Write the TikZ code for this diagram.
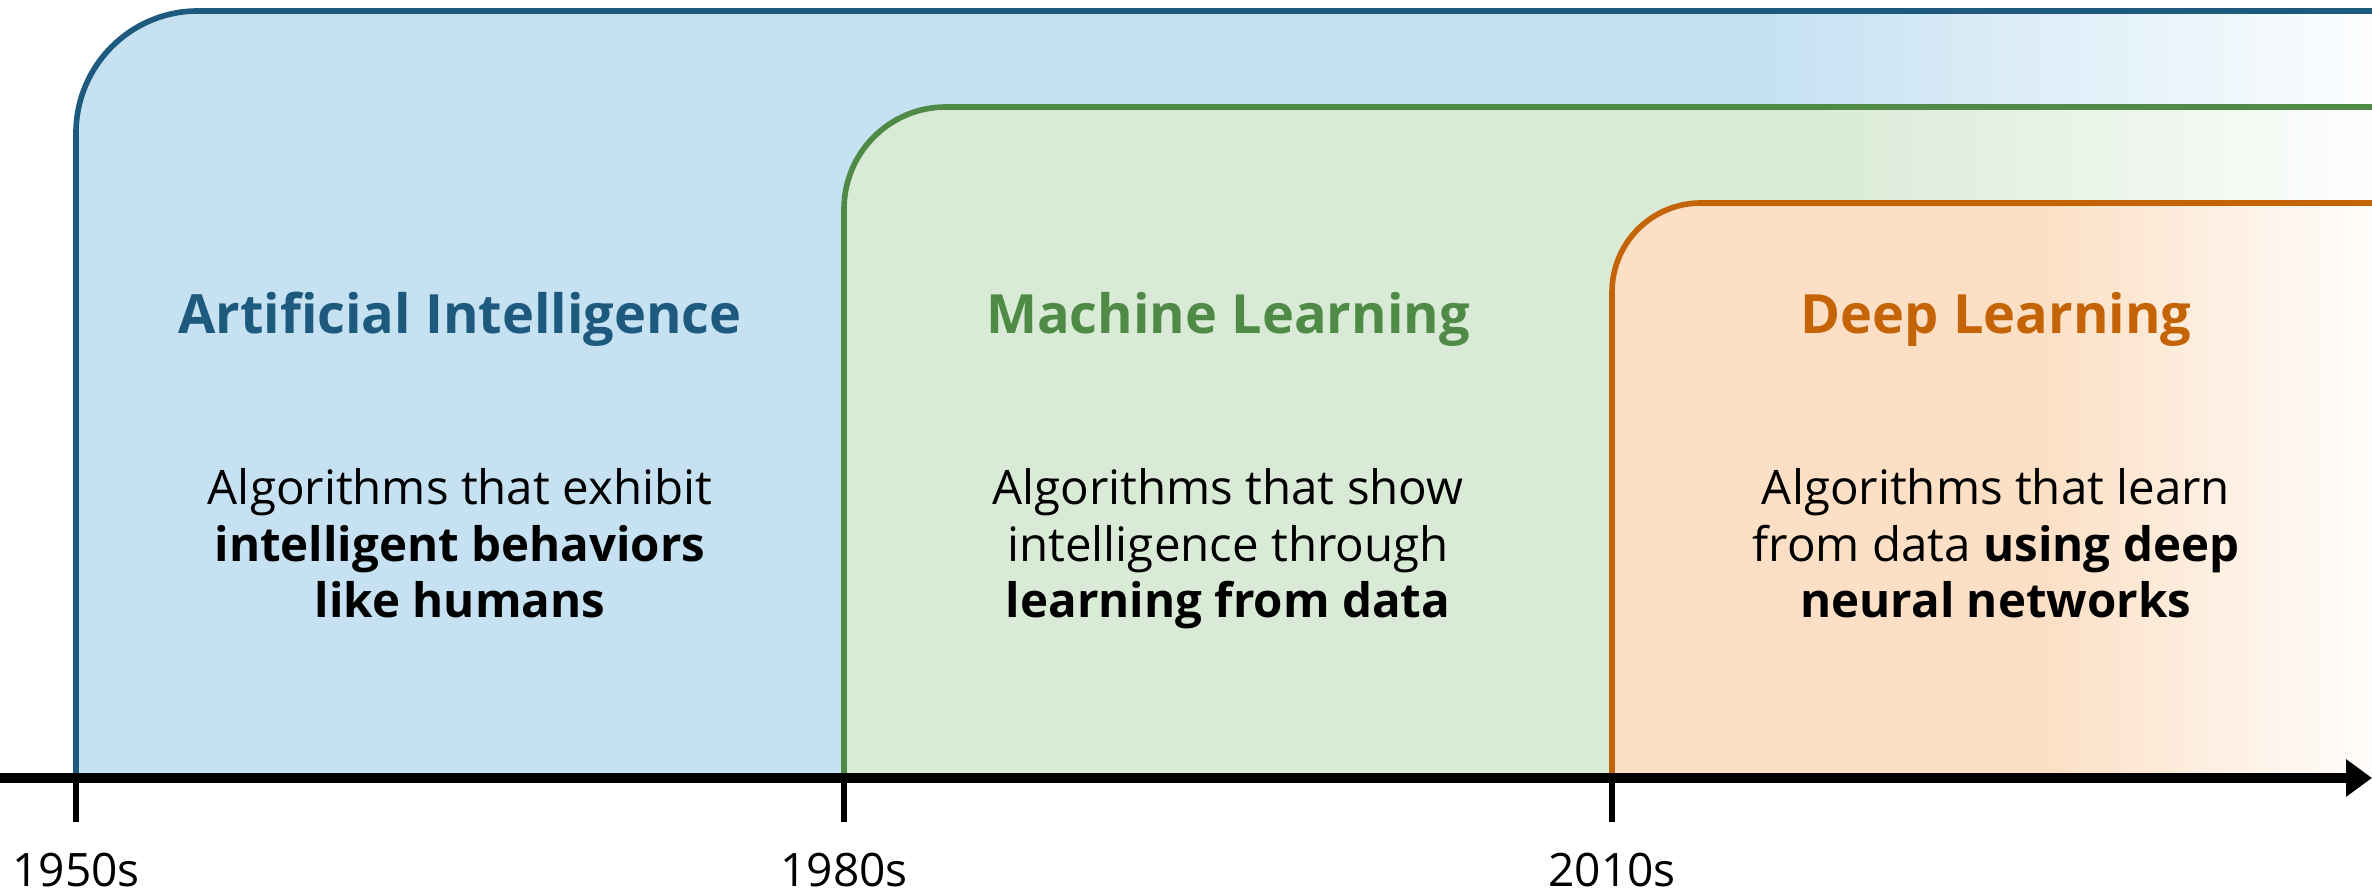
\documentclass[tikz,border=0pt]{standalone}
\usepackage{fontspec}
\setmainfont{Open Sans}
\usepackage{tikz}
\usetikzlibrary{arrows.meta}

\definecolor{ailine}{HTML}{1D5A7D}
\definecolor{aifill}{HTML}{C5E1F2}
\definecolor{mlline}{HTML}{4F8A46}
\definecolor{mlfill}{HTML}{D9EBD6}
\definecolor{dlline}{HTML}{C46407}
\definecolor{dlfill}{HTML}{FCDFC4}

\pgfdeclarehorizontalshading{aifade}{100bp}{color(0bp)=(aifill); color(61.7bp)=(aifill); color(75bp)=(aifill!5); color(100bp)=(aifill!5)}
\pgfdeclarehorizontalshading{mlfade}{100bp}{color(0bp)=(mlfill); color(57bp)=(mlfill); color(75bp)=(mlfill!5); color(100bp)=(mlfill!5)}
\pgfdeclarehorizontalshading{dlfade}{100bp}{color(0bp)=(dlfill); color(53bp)=(dlfill); color(75bp)=(dlfill!5); color(100bp)=(dlfill!5)}

\begin{document}
\begin{tikzpicture}[x=0.01cm, y=0.01cm,
		border/.style={line width=1.6pt},
		title/.style={font=\fontsize{15.4}{18}\selectfont\bfseries, anchor=base},
		desc/.style={font=\fontsize{13.5}{16.1}\selectfont, align=center, anchor=base},
		year/.style={font=\fontsize{13.1}{16}\selectfont, anchor=base, inner sep=0pt}]
	\useasboundingbox (0,0) rectangle (2372,892);

	% eras
	\shade[shading=aifade] (76,114) -- (76,759) arc[start angle=180, end angle=90, radius=122] -- (2372,881) -- (2372,114) -- cycle;
	\draw[border, ailine] (76,114) -- (76,759) arc[start angle=180, end angle=90, radius=122] -- (2372,881);

	\shade[shading=mlfade] (844,114) -- (844,683) arc[start angle=180, end angle=90, radius=102] -- (2372,785) -- (2372,114) -- cycle;
	\draw[border, mlline] (844,114) -- (844,683) arc[start angle=180, end angle=90, radius=102] -- (2372,785);

	\shade[shading=dlfade] (1612,114) -- (1612,600) arc[start angle=180, end angle=90, radius=89] -- (2372,689) -- (2372,114) -- cycle;
	\draw[border, dlline] (1612,114) -- (1612,600) arc[start angle=180, end angle=90, radius=89] -- (2372,689);

	\node[title, ailine] (aititle) at (460,558) {Artificial Intelligence};
	\node[title, mlline] (mltitle) at (1228,558) {Machine Learning};
	\node[title, dlline] (dltitle) at (1996,558) {Deep Learning};

	% base is the last line
	\node[desc] (aidesc) at (460,274) {Algorithms that exhibit\\\textbf{intelligent behaviors}\\\textbf{like humans}};
	\node[desc] (mldesc) at (1228,274) {Algorithms that show\\intelligence through\\\textbf{learning from data}};
	\node[desc] (dldesc) at (1996,274) {Algorithms that learn\\from data \textbf{using deep}\\\textbf{neural networks}};

	% time axis
	\coordinate (axisstart) at (0,114);
	\coordinate (axisend) at (2372,114);
	\draw[line width=3.1pt, -{Triangle[length=0.26cm, width=0.36cm]}] (axisstart) -- (axisend);

	\foreach \pos/\yr in {76/1950s, 844/1980s, 1612/2010s} {
		\draw[border] (\pos,114) -- (\pos,70);
		\node[year] (y\yr) at (\pos,5) {\yr};
	}
\end{tikzpicture}
\end{document}
